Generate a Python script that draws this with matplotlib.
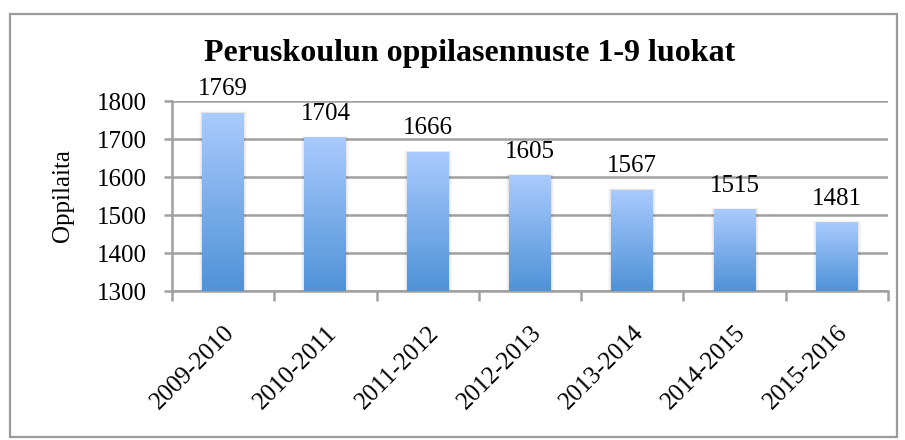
import matplotlib
matplotlib.use("Agg")
import matplotlib.pyplot as plt
import numpy as np
from matplotlib.patches import Rectangle
from matplotlib.colors import LinearSegmentedColormap

categories = ["2009-2010", "2010-2011", "2011-2012", "2012-2013", "2013-2014", "2014-2015", "2015-2016"]
values = [1769, 1704, 1666, 1605, 1567, 1515, 1481]
title = "Peruskoulun oppilasennuste 1-9 luokat"
ylabel = "Oppilaita"
yticks = [1300, 1400, 1500, 1600, 1700, 1800]

W, H = 905, 440
fig = plt.figure(figsize=(W/100, H/100), dpi=100)
serif = "Liberation Serif"
grid_c = "#a0a0a0"

# figure border
fig.patches.append(Rectangle((10/W, 1 - 437/H), 887/W, 423/H, transform=fig.transFigure,
                             fill=False, edgecolor="#9a9a9a", linewidth=1.6))

ax = fig.add_axes([172/W, 1 - 291/H, (888-172)/W, (291-101)/H])
n = len(categories)
x = np.arange(n)
bw = 0.41
ax.set_xlim(-0.5, n - 0.5)
ax.set_ylim(yticks[0], yticks[-1])

cmap = LinearSegmentedColormap.from_list("g", ["#4f92d8", "#aacbfd"])
grad = np.linspace(0, 1, 256).reshape(-1, 1)
for xi, v in zip(x, values):
    # soft shadow
    for k, a in [(3, 0.025), (2, 0.035), (1, 0.045)]:
        sh = Rectangle((xi - bw/2 - 0.01*k, yticks[0]), bw + 0.02*k, v - yticks[0] + 1.2*k,
                       facecolor="black", alpha=a, edgecolor="none", zorder=2)
        ax.add_patch(sh)
    rect = Rectangle((xi - bw/2, yticks[0]), bw, v - yticks[0], facecolor="none", edgecolor="none", zorder=3)
    ax.add_patch(rect)
    im = ax.imshow(grad, cmap=cmap, aspect="auto", origin="lower",
                   extent=(xi - bw/2, xi + bw/2, yticks[0], v), zorder=3)
    im.set_clip_path(rect)
    ax.annotate(str(v), (xi, v), xytext=(0, 9), textcoords="offset points",
                ha="center", va="bottom", fontsize=18, family=serif, color="black")

ax.set_xlim(-0.5, n - 0.5)
ax.set_ylim(yticks[0], yticks[-1])
ax.set_yticks(yticks)
ax.yaxis.grid(True, color=grid_c, linewidth=1.8, zorder=1)
ax.set_axisbelow(True)
for s in ["top", "right"]:
    ax.spines[s].set_visible(False)
for s in ["left", "bottom"]:
    ax.spines[s].set_color(grid_c)
    ax.spines[s].set_linewidth(1.8)
ax.tick_params(axis="y", length=6, width=1.8, color=grid_c, labelsize=18, pad=12)
ax.set_xticks(x)
ax.set_xticklabels(categories, rotation=45, ha="right", rotation_mode="anchor", fontsize=18, family=serif)
ax.tick_params(axis="x", which="major", length=0, pad=22)
ax.set_xticks(np.arange(n + 1) - 0.5, minor=True)
ax.tick_params(axis="x", which="minor", length=7, width=1.8, color=grid_c)
for lab in ax.get_yticklabels():
    lab.set_family(serif)
ax.set_ylabel(ylabel, fontsize=18, family=serif)
ax.yaxis.set_label_coords((74 - 172) / 716, 0.5)
fig.text(470/W, 1 - 53/H, title, ha="center", va="center", fontsize=23, fontweight="bold", family=serif)

fig.savefig("out.png", dpi=100)
